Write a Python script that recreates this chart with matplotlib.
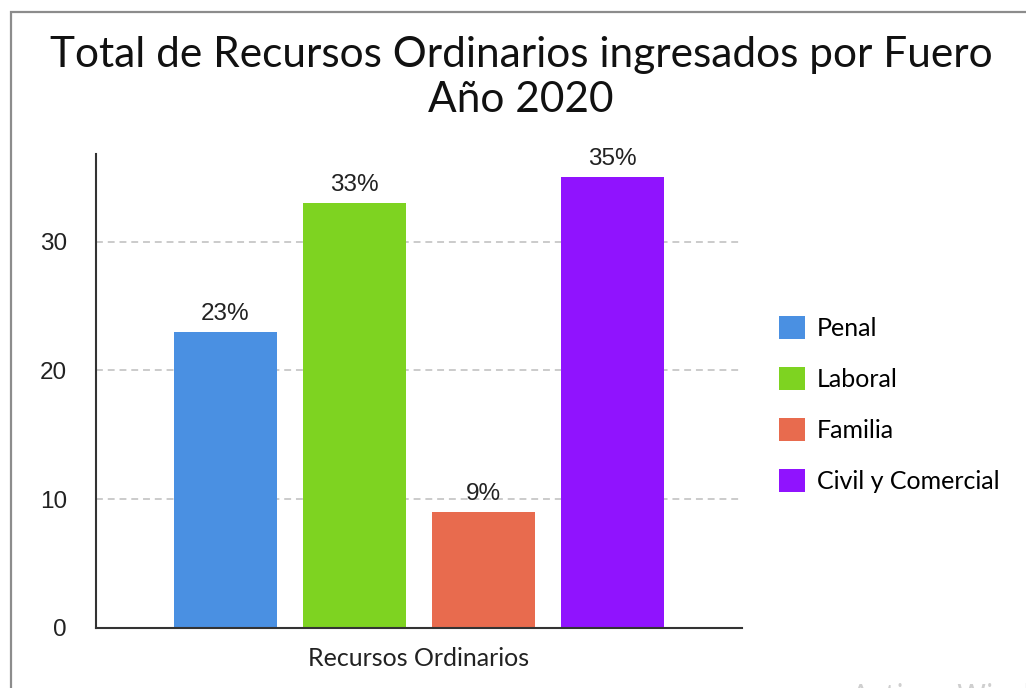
import matplotlib
matplotlib.use("Agg")
import matplotlib.pyplot as plt
from matplotlib.patches import Rectangle

# datos del grafico
fueros = ["Penal", "Laboral", "Familia", "Civil y Comercial"]
porcentajes = [23, 33, 9, 35]
colores = ["#4a90e2", "#7ed321", "#e86b4e", "#9013fe"]
categoria = "Recursos Ordinarios"
yticks = [0, 10, 20, 30]

W, H = 1026, 688
fig = plt.figure(figsize=(W / 100, H / 100), dpi=100)

# marco gris alrededor del grafico
fig.add_artist(Rectangle((11 / W, -0.2), 1.2, 1 - 12 / H + 0.2,
                         transform=fig.transFigure, fill=False,
                         edgecolor="#8c8c8c", linewidth=1.6))

ax = fig.add_axes([96 / W, 1 - 628 / H, 646 / W, (628 - 154) / H])

for i, (f, v, c) in enumerate(zip(fueros, porcentajes, colores)):
    b = ax.bar(i, v, width=0.8, color=c, label=f, zorder=2)
    ax.bar_label(b, labels=[f"{v}%"], padding=5, fontsize=17.5,
                 family="Liberation Sans", color="#222222")

ax.set_xlim(-1, 4)
ax.set_ylim(0, 36.8)
ax.set_yticks(yticks)
ax.set_yticklabels([str(t) for t in yticks], family="Liberation Sans",
                   fontsize=17.5, color="#222222")
ax.set_xticks([1.5])
ax.set_xticklabels([categoria], family="Lato", fontsize=18, color="#222222")
ax.tick_params(axis="y", length=0, pad=21)
ax.tick_params(axis="x", length=0, pad=14)

ax.set_axisbelow(True)
ax.yaxis.grid(True, color="#bdbdbd", linewidth=1.1, dashes=(4.5, 3.2))
for s in ["top", "right"]:
    ax.spines[s].set_visible(False)
for s in ["left", "bottom"]:
    ax.spines[s].set_color("#333333")
    ax.spines[s].set_linewidth(1.5)

fig.suptitle("Total de Recursos Ordinarios ingresados por Fuero\nAño 2020",
             x=521 / W, y=1 - 36 / H, va="top", family="Lato",
             fontsize=30.5, linespacing=1.22, color="#111111")

fig.legend(loc="upper left", bbox_to_anchor=(779 / W, 1 - 316 / H),
           frameon=False, prop={"family": "Lato", "size": 18},
           handlelength=1.04, handleheight=1.04, handletextpad=0.48,
           labelspacing=1.08, borderpad=0, borderaxespad=0)

# marca de agua de Windows en la esquina inferior
fig.text(851 / W, 1 - 683 / H, "Activar Windows", va="top", ha="left",
         fontsize=22, color="#cfcfcf", family="Noto Sans")

fig.savefig("out.png", dpi=100)
